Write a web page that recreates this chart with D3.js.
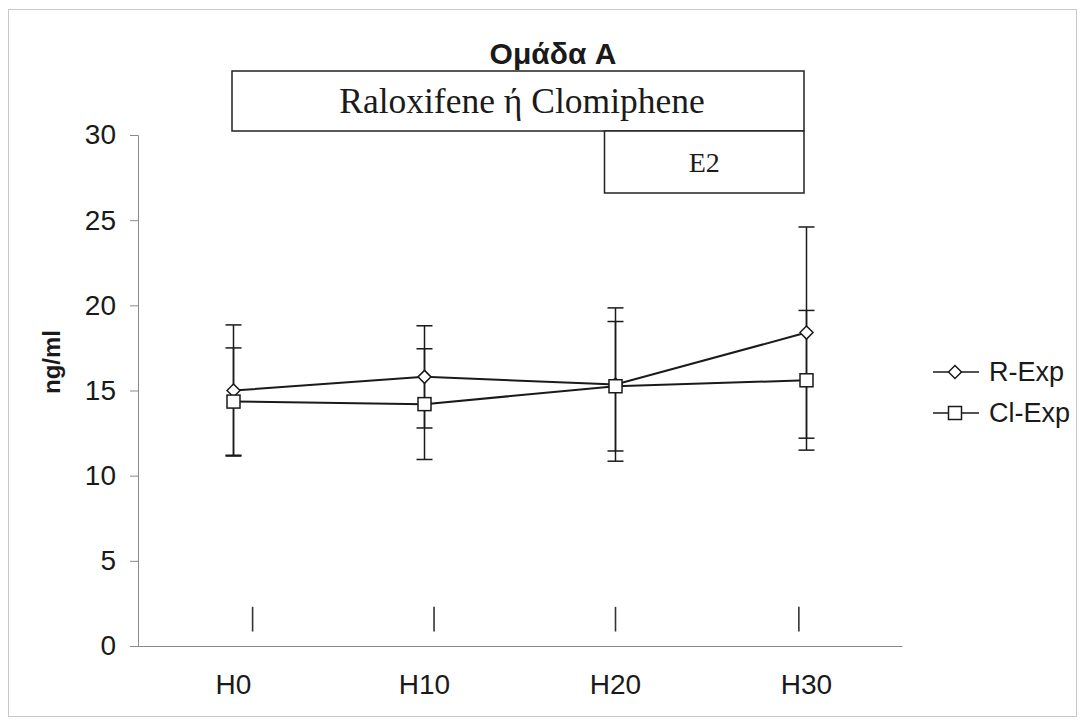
<!DOCTYPE html>
<html>
<head>
<meta charset="utf-8">
<script src="https://cdn.jsdelivr.net/npm/d3@7"></script>
<style>
  body { margin: 0; background: #fff; }
  svg { display: block; }
  text { fill: #1a1a1a; }
</style>
</head>
<body>
<svg id="chart" width="1085" height="725"></svg>
<script>
// data
var categories = ["H0", "H10", "H20", "H30"];
var rExp = [15.0, 15.8, 15.35, 18.4];
var rErr = [3.85, 3.0, 4.5, 6.2];
var clExp = [14.35, 14.2, 15.25, 15.6];
var clErr = [3.15, 3.25, 3.8, 4.1];
var yTicks = [0, 5, 10, 15, 20, 25, 30];
var seriesNames = ["R-Exp", "Cl-Exp"];
// treatment periods drawn above the plot (start / end category)
var treatments = ["Raloxifene ή Clomiphene", "E2"];
var treatStart = ["H0", "H20"];
var treatEnd = ["H30", "H30"];
// hand placed "|" marks, in category index units
var markAt = [0.1, 1.05, 2.0, 2.96];

var svg = d3.select("#chart");

var plotLeft = 138, plotRight = 902, plotTop = 135, plotBottom = 646;

var x = d3.scaleBand().domain(categories).range([plotLeft, plotRight]).padding(0);
var xc = function(c) { return x(c) + x.bandwidth() / 2; };
var xi = d3.scaleLinear().domain([0, 1]).range([xc("H0"), xc("H10")]);
var y = d3.scaleLinear().domain([0, 30]).range([plotBottom, plotTop]);

// outer frame
svg.append("rect")
    .attr("x", 8.5).attr("y", 9.5)
    .attr("width", 1068).attr("height", 707)
    .attr("fill", "none")
    .attr("stroke", "#c8c8c8");

// title
svg.append("text")
    .attr("x", 553).attr("y", 64)
    .attr("text-anchor", "middle")
    .style("font-family", "Liberation Sans, Arial, sans-serif")
    .style("font-weight", "bold")
    .style("font-size", "30px")
    .text("Ομάδα A");

// y axis
var yAxis = d3.axisLeft(y).tickValues(yTicks).tickSize(8).tickPadding(14);
var gy = svg.append("g")
    .attr("transform", "translate(" + plotLeft + ",0)")
    .call(yAxis);
gy.select(".domain").attr("stroke", "#8a8a8a");
gy.selectAll(".tick line").attr("stroke", "#8a8a8a");
gy.selectAll(".tick text")
    .style("font-family", "Liberation Sans, Arial, sans-serif")
    .style("font-size", "28px")
    .attr("fill", "#222");

// x axis
var xAxis = d3.axisBottom(x).tickSize(0).tickPadding(28);
var gx = svg.append("g")
    .attr("transform", "translate(0," + plotBottom + ")")
    .call(xAxis);
gx.select(".domain").attr("stroke", "#8a8a8a");
gx.selectAll(".tick text")
    .style("font-family", "Liberation Sans, Arial, sans-serif")
    .style("font-size", "28px")
    .attr("fill", "#222");

// y title
svg.append("text")
    .attr("transform", "translate(52," + 362 + ") rotate(-90)")
    .attr("text-anchor", "middle")
    .attr("dy", "0.35em")
    .style("font-family", "Liberation Sans, Arial, sans-serif")
    .style("font-weight", "bold")
    .style("font-size", "24px")
    .text("ng/ml");

// treatment boxes
var boxTop = [71, 131], boxBottom = [131, 193], boxShift = [-1.5, -11];
var boxFont = ["35.5px", "28px"];
treatments.forEach(function(t, i) {
  var x0 = xc(treatStart[i]) + boxShift[i], x1 = xc(treatEnd[i]) - 2.5;
  svg.append("rect")
      .attr("x", x0).attr("y", boxTop[i])
      .attr("width", x1 - x0).attr("height", boxBottom[i] - boxTop[i])
      .attr("fill", "#fff")
      .attr("stroke", "#222")
      .attr("stroke-width", 1.5);
  svg.append("text")
      .attr("x", (x0 + x1) / 2 + (i == 0 ? 4 : 0))
      .attr("y", (boxTop[i] + boxBottom[i]) / 2)
      .attr("dy", "0.35em")
      .attr("text-anchor", "middle")
      .style("font-family", "Liberation Serif, Times New Roman, serif")
      .style("font-size", boxFont[i])
      .text(t);
});

// little "|" marks near the axis
svg.selectAll(".mark")
  .data(markAt)
  .enter().append("line")
    .attr("class", "mark")
    .attr("x1", function(d) { return xi(d); })
    .attr("x2", function(d) { return xi(d); })
    .attr("y1", y(0.85))
    .attr("y2", y(2.3))
    .attr("stroke", "#333")
    .attr("stroke-width", 1.6);

var series = [
  { name: seriesNames[0], vals: rExp, err: rErr, shape: "diamond" },
  { name: seriesNames[1], vals: clExp, err: clErr, shape: "square" }
];

// error bars
series.forEach(function(s) {
  var g = svg.append("g").attr("stroke", "#1a1a1a").attr("stroke-width", 1.5);
  categories.forEach(function(c, i) {
    var cx = xc(c), hi = y(s.vals[i] + s.err[i]), lo = y(s.vals[i] - s.err[i]);
    g.append("line").attr("x1", cx).attr("x2", cx).attr("y1", hi).attr("y2", lo);
    g.append("line").attr("x1", cx - 8).attr("x2", cx + 8).attr("y1", hi).attr("y2", hi);
    g.append("line").attr("x1", cx - 8).attr("x2", cx + 8).attr("y1", lo).attr("y2", lo);
  });
});

var line = d3.line()
    .x(function(d, i) { return xc(categories[i]); })
    .y(function(d) { return y(d); });

function drawMarker(g, shape, cx, cy) {
  if (shape == "diamond") {
    g.append("path")
        .attr("d", "M" + cx + "," + (cy - 6.5) + "L" + (cx + 6.5) + "," + cy +
          "L" + cx + "," + (cy + 6.5) + "L" + (cx - 6.5) + "," + cy + "Z")
        .attr("fill", "#fff").attr("stroke", "#1a1a1a").attr("stroke-width", 1.5);
  } else {
    g.append("rect")
        .attr("x", cx - 6.5).attr("y", cy - 6.5)
        .attr("width", 13).attr("height", 13)
        .attr("fill", "#fff").attr("stroke", "#1a1a1a").attr("stroke-width", 1.5);
  }
}

series.forEach(function(s) {
  svg.append("path")
      .datum(s.vals)
      .attr("d", line)
      .attr("fill", "none")
      .attr("stroke", "#1a1a1a")
      .attr("stroke-width", 2);
  var g = svg.append("g");
  s.vals.forEach(function(v, i) { drawMarker(g, s.shape, xc(categories[i]), y(v)); });
});

// legend
series.forEach(function(s, i) {
  var ly = 372 + i * 41;
  var g = svg.append("g");
  g.append("line")
      .attr("x1", 933).attr("x2", 979)
      .attr("y1", ly).attr("y2", ly)
      .attr("stroke", "#1a1a1a").attr("stroke-width", 1.5);
  drawMarker(g, s.shape, 955, ly);
  g.append("text")
      .attr("x", 989).attr("y", ly)
      .attr("dy", "0.35em")
      .style("font-family", "Liberation Sans, Arial, sans-serif")
      .style("font-size", "27px")
      .text(s.name);
});
</script>
</body>
</html>
